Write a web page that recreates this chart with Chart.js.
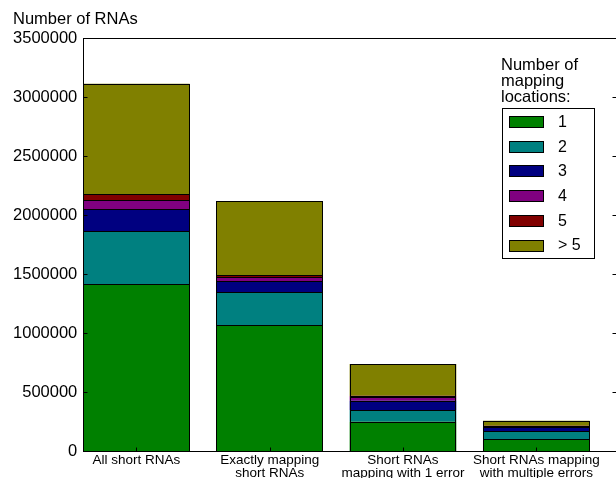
<!DOCTYPE html>
<html>
<head>
<meta charset="utf-8">
<script src="https://cdn.jsdelivr.net/npm/chart.js@4/dist/chart.umd.min.js"></script>
<style>
  html, body { margin: 0; padding: 0; background: #fff; overflow: hidden; }
  #wrap { width: 616px; height: 478px; position: relative; overflow: hidden; }
</style>
</head>
<body>
<div id="wrap"><canvas id="c" width="620" height="478"></canvas></div>
<script>
// Short RNA groups and how many mapping locations each read has
const categories = [
  "All short RNAs",
  ["Exactly mapping", "short RNAs"],
  ["Short RNAs", "mapping with 1 error"],
  ["Short RNAs mapping", "with multiple errors"]
];
const locationLabels = ["1", "2", "3", "4", "5", "> 5"];
const locationColors = ["#008000", "#008080", "#000080", "#800080", "#800000", "#808000"];

const loc1    = [1414000, 1069000, 250000, 100000];
const loc2    = [ 450000,  281000,  99000,  72000];
const loc3    = [ 188000,   93000,  79000,  35000];
const loc4    = [  74000,   29000,  36000,   6000];
const loc5    = [  51000,   20000,   6000,   4000];
const locMore = [ 936000,  628000, 269000,  42000];

const yMax = 3500000;
const yStep = 500000;
const yTitle = "Number of RNAs";
const legendTitle = ["Number of", "mapping", "locations:"];

const FONT = "'Liberation Sans', Arial, sans-serif";
const seriesValues = [loc1, loc2, loc3, loc4, loc5, locMore];

// Crisp black outlines round every stacked segment
const outlinePlugin = {
  id: 'outline',
  afterDatasetsDraw(chart) {
    const ctx = chart.ctx;
    ctx.save();
    ctx.strokeStyle = '#000';
    ctx.lineWidth = 1;
    chart.data.datasets.forEach((ds, i) => {
      chart.getDatasetMeta(i).data.forEach(bar => {
        const { x, y, base, width } = bar.getProps(['x', 'y', 'base', 'width'], true);
        const l = Math.round(x - width / 2) + 0.5;
        const r = Math.round(x + width / 2) - 0.5;
        const t = Math.round(Math.min(y, base)) + 0.5;
        const b = Math.round(Math.max(y, base)) + 0.5;
        ctx.strokeRect(l, t, r - l, b - t);
      });
    });
    ctx.restore();
  }
};

// Axes frame with inward tick marks, y title and the legend panel
const framePlugin = {
  id: 'frame',
  afterDatasetsDraw(chart) {
    const { ctx, chartArea, scales: { x, y } } = chart;
    const left = Math.round(chartArea.left) + 0.5;
    const right = Math.round(chartArea.right) + 0.5;
    const top = Math.round(chartArea.top) + 0.5;
    const bottom = Math.round(chartArea.bottom) + 0.5;

    const line = (x1, y1, x2, y2) => {
      ctx.beginPath(); ctx.moveTo(x1, y1); ctx.lineTo(x2, y2); ctx.stroke();
    };
    ctx.save();
    ctx.strokeStyle = '#000';
    ctx.lineWidth = 1;
    ctx.strokeRect(left, top, right - left, bottom - top);
    y.ticks.forEach(t => {
      const py = Math.round(y.getPixelForValue(t.value)) + 0.5;
      line(left, py, left + 4, py);
      line(right - 4, py, right, py);
    });
    x.ticks.forEach(t => {
      const px = Math.round(x.getPixelForValue(t.value)) + 0.5;
      line(px, bottom, px, bottom - 4);
    });

    // y title
    ctx.fillStyle = '#000';
    ctx.font = '16.5px ' + FONT;
    ctx.textAlign = 'left';
    ctx.textBaseline = 'alphabetic';
    ctx.fillText(yTitle, 13, 23.5);

    // legend title
    legendTitle.forEach((t, i) => ctx.fillText(t, 501, 69.5 + i * 16.2));

    // legend box
    const bx = 502.5, by = 108.5, bw = 92, bh = 150;
    ctx.fillStyle = '#fff';
    ctx.fillRect(bx, by, bw, bh);
    ctx.strokeRect(bx, by, bw, bh);
    ctx.font = '16px ' + FONT;
    ctx.textBaseline = 'middle';
    chart.data.datasets.forEach((ds, i) => {
      const cy = 121.5 + i * 24.7;
      ctx.fillStyle = ds.backgroundColor;
      ctx.fillRect(509.5, Math.round(cy - 5.5) + 0.5, 34, 11);
      ctx.strokeRect(509.5, Math.round(cy - 5.5) + 0.5, 34, 11);
      ctx.fillStyle = '#000';
      ctx.fillText(ds.label, 558, cy + 1);
    });
    ctx.restore();
  }
};

new Chart(document.getElementById('c'), {
  type: 'bar',
  data: {
    datasets: seriesValues.map((vals, i) => ({
      label: locationLabels[i],
      data: vals.map((v, k) => ({ x: k, y: v })),
      backgroundColor: locationColors[i],
      borderWidth: 0,
      inflateAmount: 0,
      barPercentage: 0.8,
      categoryPercentage: 1.0
    }))
  },
  options: {
    responsive: false,
    animation: false,
    devicePixelRatio: 1,
    layout: { padding: { top: 38, right: 3.7, bottom: 0, left: 0 } },
    plugins: { legend: { display: false }, tooltip: { enabled: false } },
    scales: {
      x: {
        type: 'linear',
        stacked: true,
        offset: false,
        min: -0.4,
        max: categories.length - 0.4,
        grid: { display: false, drawTicks: false, offset: false },
        border: { display: false },
        afterBuildTicks(scale) {
          scale.ticks = categories.map((_, i) => ({ value: i }));
        },
        ticks: {
          color: '#000',
          padding: 2,
          maxRotation: 0,
          autoSkip: false,
          font: { family: FONT, size: 13.5, lineHeight: 1.0 },
          callback: v => categories[v]
        },
        afterFit(scale) { scale.height = 26.7; }
      },
      y: {
        stacked: true,
        min: 0,
        max: yMax,
        grid: { display: false, drawTicks: false },
        border: { display: false },
        ticks: {
          stepSize: yStep,
          color: '#000',
          padding: 5.7,
          font: { family: FONT, size: 16.5 },
          callback: v => String(v)
        },
        afterFit(scale) { scale.width = 83; }
      }
    }
  },
  plugins: [outlinePlugin, framePlugin]
});
</script>
</body>
</html>
